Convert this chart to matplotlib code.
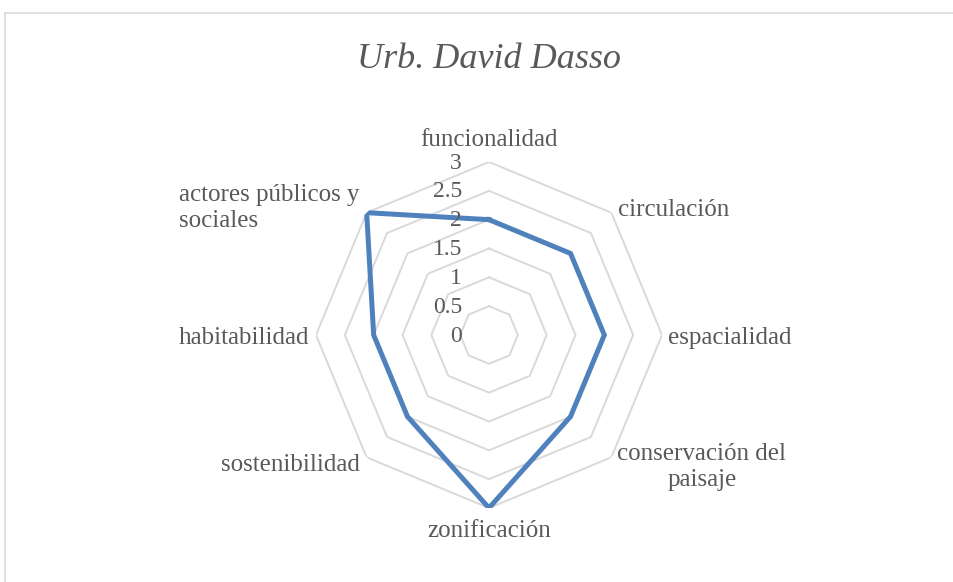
import numpy as np
import matplotlib
matplotlib.use("Agg")
from matplotlib import pyplot as plt
from matplotlib import transforms as mtransforms
from matplotlib.patches import Rectangle

title = "Urb. David Dasso"
categories = ["funcionalidad", "circulación", "espacialidad", "conservación del\npaisaje",
              "zonificación", "sostenibilidad", "habitabilidad", "actores públicos y\nsociales"]
values = [2, 2, 2, 2, 3, 2, 2, 3]
ring_levels = [0.5, 1, 1.5, 2, 2.5, 3]
tick_labels = ["0", "0.5", "1", "1.5", "2", "2.5", "3"]

txt_color = "#595959"
grid_color = "#D9D9D9"
line_color = "#4F81BD"
font = "Liberation Serif"

fig = plt.figure(figsize=(9.54, 5.82), dpi=100)
fig.patch.set_facecolor("white")

# outer chart border (cut off at right/bottom like the screenshot)
fig.patches.append(Rectangle((5 / 954, -0.1), 1.2, 1.1 - 13 / 582, transform=fig.transFigure,
                             fill=False, edgecolor=grid_color, linewidth=1.2))

W, H = 954, 582
cx, cy, R = 489, 335, 173
ax = fig.add_axes([(cx - R) / W, (H - cy - R) / H, 2 * R / W, 2 * R / H], projection="polar")
ax.set_theta_zero_location("N")
ax.set_theta_direction(-1)
ax.set_ylim(0, 3)
ax.grid(False)
ax.spines["polar"].set_visible(False)
ax.set_xticks([])
ax.set_yticks([])
ax.patch.set_alpha(0)

n = len(categories)
theta = np.linspace(0, 2 * np.pi, n, endpoint=False)
theta_c = np.append(theta, theta[0])

# octagon rings
for r in ring_levels:
    ax.plot(theta_c, [r] * (n + 1), color=grid_color, linewidth=1.4, zorder=1)

# data
vals = values + values[:1]
ax.plot(theta_c, vals, color=line_color, linewidth=3.6, solid_joinstyle="miter", zorder=3)

# radial tick labels
off = mtransforms.offset_copy(ax.transData, fig=fig, x=-27, y=-1, units="dots")
for i, lab in enumerate(tick_labels):
    ax.text(0, i * 0.5, lab, transform=off, ha="right", va="center",
            fontsize=17, color=txt_color, family=font)

# category labels: (dx, dy) pixel offset from outer vertex, alignment
lab_pos = [(0, 22, "center", "center", "center"),
           (7, 3, "left", "center", "left"),
           (6, -3, "left", "center", "left"),
           (6, -10, "left", "center", "center"),
           (0, -23, "center", "center", "center"),
           (-7, -8, "right", "center", "right"),
           (-7, -3, "right", "center", "right"),
           (-7, 5, "right", "center", "left")]
for t, lab, (dx, dy, ha, va, ma) in zip(theta, categories, lab_pos):
    tr = mtransforms.offset_copy(ax.transData, fig=fig, x=dx, y=dy, units="dots")
    ax.text(t, 3, lab, transform=tr, ha=ha, va=va, multialignment=ma,
            fontsize=18, color=txt_color, family=font, linespacing=1.25)

fig.text(489 / W, 1 - 60 / H, title, ha="center", va="center", fontsize=26,
         style="italic", color=txt_color, family=font)

fig.savefig("out.png", dpi=100)
